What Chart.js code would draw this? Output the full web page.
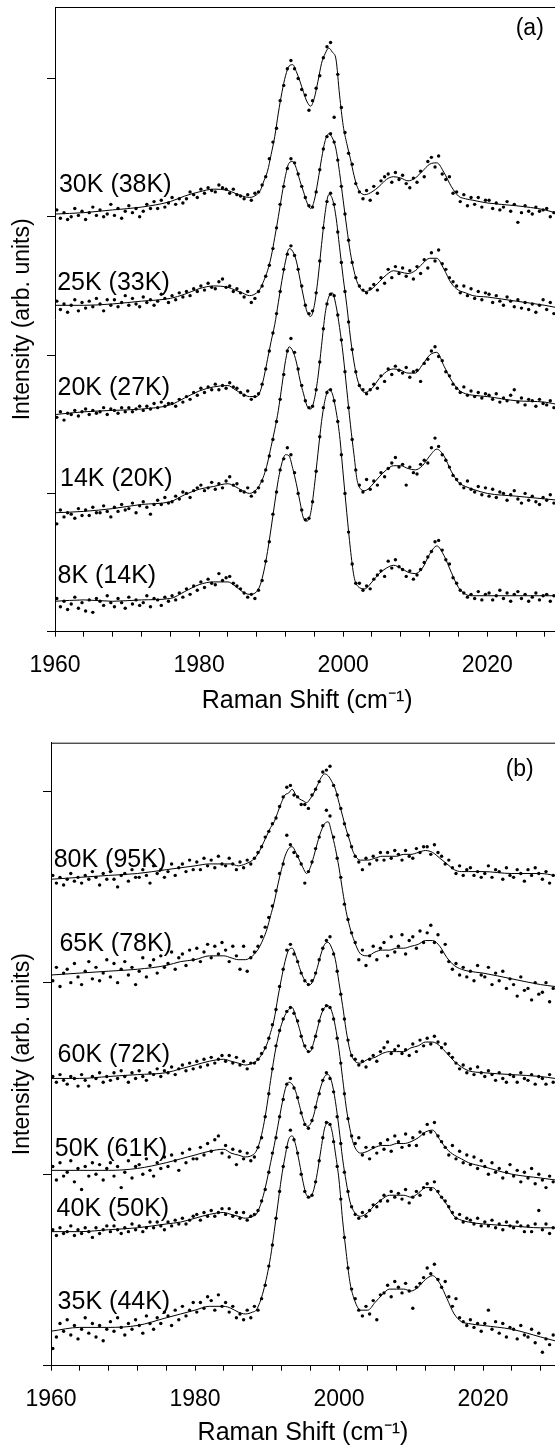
<!DOCTYPE html>
<html>
<head>
<meta charset="utf-8">
<script src="https://cdn.jsdelivr.net/npm/chart.js@4.4.0/dist/chart.umd.min.js"></script>
<style>
  html, body { margin: 0; padding: 0; background: #fff; overflow: hidden; width: 555px; height: 1448px; }
  #boxA { position: absolute; left: 0; top: 0; width: 565px; height: 720px; }
  #boxB { position: absolute; left: 0; top: 720px; width: 565px; height: 728px; }
</style>
</head>
<body>
<div id="boxA"><canvas id="chartA" width="565" height="720"></canvas></div>
<div id="boxB"><canvas id="chartB" width="565" height="728"></canvas></div>
<script>
// Raman shift (cm-1) where the fitted curves were read
const X_FIT = [1960, 1964, 1968, 1972, 1976, 1978, 1980, 1982, 1984, 1985, 1986, 1987, 1988,
  1988.5, 1989, 1989.5, 1990, 1990.5, 1991, 1991.5, 1992, 1992.5, 1993, 1993.5, 1994, 1994.5,
  1995, 1995.5, 1996, 1996.5, 1997, 1997.5, 1998, 1998.5, 1999, 1999.5, 2000, 2000.5, 2001,
  2001.5, 2002, 2003, 2004, 2005, 2006, 2007, 2008, 2009, 2010, 2011, 2012, 2013, 2014, 2015,
  2016, 2017, 2018, 2020, 2024, 2028, 2030];

// measured points are spaced every 0.5 cm-1 starting at 1960.25
const DOT_START = 1960.25;
const DOT_STEP = 0.5;

// ---- panel (a) ----
const FIT_30K = [302,303,305,307,311,315,318,320,319,317,315,314,316,
  319,326,333,345,358,375,390,402,409,410,405,398,390,383,380,386,398,411,418,422,419,414,388,366,353,342,330,321,
  316,318,322,327,329,328,326,328,333,338,339,332,322,315,313,312,310,308,305,302];
const FIT_25K = [236,236,237,239,241,244,248,250,249,247,245,243,245,
  248,254,261,271,285,300,316,330,339,340,335,326,318,310,306,312,326,342,355,360,357,349,332,312,292,274,261,252,
  246,248,253,258,261,260,259,261,266,270,270,262,252,247,245,243,242,239,236,234];
const FIT_20K = [157,159,160,161,164,169,174,177,178,175,172,170,170,
  174,184,197,210,222,238,254,268,277,275,268,255,242,231,228,236,255,280,303,316,313,300,278,256,236,213,195,182,
  173,176,183,188,190,189,187,187,193,200,202,192,182,175,172,171,170,167,166,164];
const FIT_14K = [86,87,89,92,94,99,103,105,107,105,102,100,103,
  107,113,122,134,146,160,178,196,206,203,195,182,172,163,161,168,184,207,230,242,245,236,220,200,175,150,128,108,
  102,106,112,117,120,120,118,117,120,127,132,127,116,108,105,103,100,98,96,95];
const FIT_8K = [22,23,22,23,24,29,34,36,36,33,29,27,29,
  34,44,58,75,93,110,122,128,127,118,107,94,82,80,86,105,129,152,168,175,172,160,142,114,86,60,40,33,
  31,36,42,46,48,46,43,42,46,56,62,55,43,32,27,26,26,26,26,26];

const DOTS_30K = [305,299,303,298, 300,306,301,304, 298,303,307,301, 305,300,302,309, 301,306,299,304,
  308,303,306,300, 304,309,306,311, 306,312,307,310, 314,309,313,310, 313,318,316,314,
  320,317,321,319, 318,323,321,320, 317,320,316,315, 313,316,312,317, 318,323,329,342,
  354,364,384,395, 407,413,407,400, 392,388,377,384, 393,402,415,423, 426,372,403,379,
  361,346,338,324, 318,313,319,312, 322,317,326,329, 331,325,332,327, 330,324,321,328,
  325,333,329,340, 343,336,344,331, 327,329,317,318, 311,316,308,314, 309,314,307,312,
  312,306,310,305, 307,311,304,309, 296,303,308,304, 302,307,304,305, 306,300,303,297];
const DOTS_25K = [239,233,237,231, 236,240,232,238, 234,239,235,241, 237,232,240,236, 240,235,238,243,
  236,241,237,235, 242,238,240,236, 239,244,241,238, 243,240,245,242, 246,243,248,246,
  250,247,252,249, 248,253,255,249, 250,246,248,245, 242,246,238,241, 246,250,257,265,
  277,292,309,322, 335,342,339,331, 322,314,308,307, 318,334,349,358, 360,354,341,322,
  302,283,267,256, 250,247,245,248, 251,247,256,252, 262,256,264,259, 263,257,261,255,
  264,259,269,263, 274,268,276,266, 262,256,253,250, 245,250,243,248, 241,246,240,245,
  244,238,243,239, 236,242,239,235, 240,234,238,233, 237,231,236,240, 233,238,230,235];
const DOTS_20K = [155,159,153,158, 157,160,156,159, 161,157,160,158, 159,162,157,161, 160,158,162,159,
  162,159,161,163, 160,163,161,165, 162,166,163,165, 165,163,168,166, 170,168,173,171,
  176,173,177,175, 179,175,178,176, 180,177,176,173, 171,174,168,170, 172,179,190,203,
  216,230,246,262, 273,279,272,262, 250,236,230,232, 245,268,292,311, 317,309,289,267,
  246,224,204,188, 178,175,172,175, 179,176,185,181, 190,186,192,189, 187,191,184,188,
  189,181,194,197, 203,206,199,196, 188,185,179,176, 173,177,171,174, 170,173,169,172,
  171,168,172,166, 169,167,171,175, 166,169,164,168, 167,163,168,165, 164,167,162,166];
const DOTS_14K = [78,88,83,86, 85,82,89,84, 88,84,90,86, 86,91,87,83, 90,87,92,88,
  89,93,86,91, 94,90,85,92, 95,92,97,93, 94,98,96,101, 100,97,102,104,
  106,102,104,108, 103,107,104,109, 112,106,107,102, 101,104,98,101, 104,109,117,127,
  139,152,168,186, 203,212,202,190, 178,167,162,163, 175,195,219,237, 244,243,229,211,
  188,162,139,117, 106,101,110,103, 109,106,115,112, 118,122,126,119, 121,106,119,115,
  114,121,124,122, 133,140,134,128, 124,119,113,110, 107,104,109,103, 101,105,99,104,
  98,103,97,101, 100,95,99,102, 96,93,100,95, 98,94,92,97, 95,99,93,96];
const DOTS_8K = [24,18,22,16, 20,25,17,21, 15,23,14,24, 22,19,26,21, 18,24,21,17,
  25,20,23,19, 21,26,18,24, 23,19,25,22, 26,23,28,25, 31,27,33,30,
  36,32,38,35, 34,42,37,39, 40,35,33,31, 28,25,27,24, 30,37,51,65,
  85,101,117,125, 133,128,115,100, 88,81,82,94, 116,141,162,173, 175,167,152,128,
  100,72,49,35, 35,30,33,31, 38,41,44,40, 51,46,52,47, 45,40,44,38,
  41,45,50,54, 58,65,66,59, 52,49,39,35, 30,28,25,27, 24,29,23,27,
  28,23,26,30, 24,28,22,27, 29,24,27,22, 25,28,23,26, 27,22,26,24];

// ---- panel (b) ----
const FIT_80K = [254,255,256,257,259,260,261,262,262,262,261,262,264,
  266,269,273,277,281,284,289,294,298,299,301,298,296,295,294,296,299,303,307,309,308,305,301,294,287,280,274,268,
  264,264,265,266,266,266,267,267,268,269,268,265,262,259,258,258,258,257,257,256];
const FIT_65K = [204,205,206,207,209,211,212,214,214,213,212,212,214,
  216,219,223,228,235,242,251,259,266,270,271,268,264,260,257,260,266,273,279,283,284,278,270,260,248,237,229,223,
  215,214,216,217,217,218,218,219,220,222,222,219,213,209,207,206,205,202,199,198];
const FIT_60K = [150,150,151,152,153,155,157,159,160,159,158,157,158,
  159,161,164,168,174,181,192,202,211,217,218,214,208,203,200,199,202,208,215,220,221,218,212,200,188,175,165,160,
  158,160,161,163,164,164,164,166,167,169,169,167,163,159,156,154,153,152,151,150];
const FIT_50K = [102,102,102,103,106,108,110,112,113,111,110,109,110,
  112,117,125,136,149,161,171,178,183,186,187,182,176,169,165,164,169,176,183,187,188,185,177,165,150,135,124,116,
  111,112,114,115,115,116,116,117,119,122,123,118,113,110,108,106,104,100,98,97];
const FIT_40K = [70,70,71,72,74,75,77,79,80,79,78,77,78,
  79,83,89,97,106,115,125,135,144,148,147,143,136,129,125,126,131,139,146,151,152,148,138,124,108,96,86,81,
  78,80,84,87,89,89,89,88,90,93,93,89,84,78,76,75,74,73,72,72];
const FIT_35K = [18,20,20,21,25,27,29,31,31,30,28,27,28,
  29,33,39,47,57,70,84,98,109,118,120,115,106,96,89,88,92,101,113,124,127,123,111,97,76,59,44,36,
  29,29,33,37,40,40,40,39,41,45,47,43,35,27,23,22,21,19,15,13];

const DOTS_80K = [256,252,255,251, 254,257,253,255, 252,256,254,258, 255,251,257,254, 258,254,250,256,
  257,253,259,255, 255,259,256,252, 261,257,259,255, 258,262,256,260, 262,258,264,259,
  263,259,265,261, 264,260,266,262, 261,265,262,259, 263,260,264,262, 265,268,271,276,
  279,283,286,292, 297,302,303,298, 297,293,293,291, 298,301,305,310, 311,313,303,298,
  291,283,277,271, 266,263,259,265, 262,266,264,268, 264,268,265,269, 267,264,269,266,
  265,270,268,271, 271,267,272,268, 266,262,264,260, 257,261,256,259, 260,256,258,255,
  257,261,255,259, 258,254,260,256, 255,259,257,253, 259,256,260,257, 254,258,252,256];
const DOTS_65K = [201,208,198,205, 207,200,210,203, 199,206,211,202, 208,201,205,212, 203,210,200,207,
  211,204,208,199, 206,213,203,209, 212,205,214,208, 210,216,207,213, 215,209,217,212,
  218,211,216,220, 213,219,215,221, 217,211,219,214, 207,219,206,213, 216,219,224,229,
  234,240,248,257, 262,277,272,268, 266,262,252,258, 263,270,276,282, 290,287,276,265,
  255,241,233,226, 221,212,217,209, 214,219,212,218, 221,214,224,216, 219,225,215,222,
  224,218,227,221, 226,230,221,225, 216,220,211,207, 210,204,208,203, 206,201,209,204,
  203,208,199,205, 201,206,197,202, 199,193,203,196, 197,191,200,194, 195,200,190,197];
const DOTS_60K = [151,148,152,149, 147,151,150,146, 152,149,146,151, 150,153,148,151, 149,153,150,154,
  151,148,153,150, 154,151,149,153, 152,155,151,154, 153,156,152,155, 157,154,158,155,
  159,156,160,157, 161,158,160,162, 159,162,158,161, 157,159,155,158, 158,160,163,166,
  171,178,186,198, 207,217,220,215, 211,205,201,199, 201,205,212,218, 222,224,215,206,
  194,181,170,162, 160,157,159,156, 160,162,159,164, 166,169,163,165, 167,163,165,162,
  168,164,170,167, 171,168,172,169, 166,168,163,161, 158,155,157,153, 155,152,156,153,
  151,154,152,149, 153,150,148,152, 151,148,153,150, 149,152,147,151, 150,147,152,148];
const DOTS_50K = [104,97,106,99, 101,107,96,103, 92,104,99,106, 100,105,97,103, 106,99,104,93,
  101,107,98,104, 105,100,108,102, 99,106,103,109, 104,110,107,102, 111,106,113,108,
  108,114,110,116, 112,118,120,111, 115,109,113,105, 112,108,111,107, 109,114,119,130,
  142,155,167,175, 181,185,187,184, 180,172,167,164, 166,172,180,186, 188,187,181,171,
  158,142,129,120, 116,119,110,114, 108,114,111,116, 113,118,112,120, 117,114,121,115,
  119,115,122,121, 126,122,127,120, 117,114,110,115, 108,112,106,110, 105,109,103,107,
  104,100,106,101, 103,98,101,105, 99,102,96,101, 98,103,95,100, 97,93,99,96];
const DOTS_40K = [71,68,72,69, 70,73,68,71, 69,72,70,67, 72,69,71,73, 70,73,71,69,
  72,70,74,71, 73,70,72,75, 72,75,73,71, 75,73,76,74, 77,74,76,78,
  79,76,80,78, 81,78,80,82, 79,82,78,80, 77,80,76,78, 79,81,86,92,
  101,111,119,130, 139,147,150,145, 140,132,126,124, 128,135,142,149, 153,150,143,130,
  116,101,91,83, 79,77,80,78, 81,84,83,86, 89,86,91,88, 90,87,92,85,
  88,91,89,93, 95,92,96,91, 88,86,83,80, 77,79,75,77, 76,74,77,73,
  75,73,76,72, 74,71,75,73, 72,75,73,70, 73,70,74,81, 71,74,69,72];
const DOTS_35K = [9,15,22,18, 24,16,21,14, 19,25,17,22, 15,21,13,19, 23,18,25,20,
  16,22,19,24, 21,17,26,22, 19,25,22,28, 26,21,29,24, 31,26,29,33,
  28,33,30,36, 34,29,37,31, 33,28,31,25, 27,24,29,25, 31,29,35,42,
  52,63,77,91, 104,114,123,118, 111,100,91,88, 89,96,107,119, 127,126,117,104,
  87,67,51,40, 35,29,26,31, 27,34,24,37, 38,42,36,44, 41,38,43,39,
  30,41,43,46, 51,48,53,45, 41,44,36,31, 35,25,23,21, 24,20,22,18,
  22,29,19,23, 17,22,15,20, 19,14,21,16, 15,19,12,17, 7,14,11,16];

// temperature labels: text with the spot (shift, intensity) where it sits
const LABELS_A = [
  { text: "30K (38K)", x: 1960.55, y: 323 },
  { text: "25K (33K)", x: 1960.3, y: 252 },
  { text: "20K (27K)", x: 1960.35, y: 176 },
  { text: "14K (20K)", x: 1960.7, y: 110 },
  { text: "8K (14K)", x: 1960.35, y: 40 }
];
const LABELS_B = [
  { text: "80K (95K)", x: 1960.37, y: 264 },
  { text: "65K (78K)", x: 1961.17, y: 220 },
  { text: "60K (72K)", x: 1960.92, y: 162 },
  { text: "50K (61K)", x: 1960.53, y: 113 },
  { text: "40K (50K)", x: 1960.78, y: 82 },
  { text: "35K (44K)", x: 1960.92, y: 33 }
];

const FONT = '"Liberation Sans", Arial, Helvetica, sans-serif';
Chart.defaults.font.family = FONT;
Chart.defaults.color = "#000";

const fitPoints = vals => X_FIT.map((x, i) => ({ x, y: vals[i] }));
const dotPoints = vals => vals.map((y, i) => ({ x: DOT_START + i * DOT_STEP, y }));

function traceDatasets(pairs) {
  const out = [];
  pairs.forEach(([fit, dots]) => {
    out.push({
      data: fitPoints(fit),
      showLine: true,
      borderColor: "#000",
      borderWidth: 1,
      pointRadius: 0,
      cubicInterpolationMode: "monotone"
    });
    out.push({
      data: dotPoints(dots),
      showLine: false,
      pointRadius: 1.7,
      pointBorderWidth: 0,
      pointBackgroundColor: "#000"
    });
  });
  return out;
}

const panelText = {
  id: "panelText",
  afterDatasetsDraw(chart, args, opts) {
    const { ctx, chartArea, scales: { x, y } } = chart;
    ctx.save();
    ctx.strokeStyle = "#000";
    ctx.lineWidth = 1;
    ctx.beginPath();
    ctx.moveTo(chartArea.left, chartArea.top + 0.5);
    ctx.lineTo(chartArea.right, chartArea.top + 0.5);
    ctx.stroke();
    ctx.fillStyle = "#000";
    ctx.textBaseline = "middle";
    ctx.textAlign = "left";
    ctx.font = "25px " + FONT;
    opts.labels.forEach(l => ctx.fillText(l.text, x.getPixelForValue(l.x), y.getPixelForValue(l.y)));
    ctx.textAlign = "center";
    ctx.font = "23px " + FONT;
    ctx.fillText(opts.tag.text, x.getPixelForValue(opts.tag.x), y.getPixelForValue(opts.tag.y));
    ctx.restore();
  }
};

function makeChart(id, pairs, o) {
  return new Chart(document.getElementById(id), {
    type: "scatter",
    data: { datasets: traceDatasets(pairs) },
    options: {
      responsive: false,
      animation: false,
      layout: { padding: { top: o.padTop, right: o.padRight, left: 0, bottom: 0 } },
      plugins: {
        legend: { display: false },
        tooltip: { enabled: false },
        panelText: { labels: o.labels, tag: o.tag }
      },
      scales: {
        x: {
          type: "linear",
          min: 1960,
          max: 2030,
          ticks: {
            stepSize: 4,
            includeBounds: false,
            autoSkip: false,
            maxRotation: 0,
            padding: 15,
            font: { size: 23 },
            callback: v => (v % 20 === 0 ? String(v) : "")
          },
          grid: { drawOnChartArea: false, tickLength: 5, color: "#000" },
          border: { color: "#000", width: 1 },
          title: {
            display: true,
            text: "Raman Shift (cm⁻¹)",
            font: { size: 25 },
            padding: { top: 0, bottom: o.titlePad }
          },
          afterFit: s => { s.height = o.xHeight; }
        },
        y: {
          min: 0,
          max: o.yMax,
          ticks: { display: false, stepSize: 100, includeBounds: false },
          grid: { drawOnChartArea: false, tickLength: 8, color: "#000" },
          border: { color: "#000", width: 1 },
          title: {
            display: true,
            text: "Intensity (arb. units)",
            font: { size: 23 },
            padding: { top: 9, bottom: 0 }
          },
          afterFit: s => { s.width = o.yWidth; }
        }
      }
    },
    plugins: [panelText]
  });
}

makeChart("chartA", [
  [FIT_30K, DOTS_30K], [FIT_25K, DOTS_25K], [FIT_20K, DOTS_20K], [FIT_14K, DOTS_14K], [FIT_8K, DOTS_8K]
], {
  padTop: 7, padRight: 5.7, xHeight: 88.3, yWidth: 55, yMax: 451.7, titlePad: 4,
  labels: LABELS_A, tag: { text: "(a)", x: 2025.9, y: 436 }
});

makeChart("chartB", [
  [FIT_80K, DOTS_80K], [FIT_65K, DOTS_65K], [FIT_60K, DOTS_60K],
  [FIT_50K, DOTS_50K], [FIT_40K, DOTS_40K], [FIT_35K, DOTS_35K]
], {
  padTop: 22.7, padRight: 10, xHeight: 82.3, yWidth: 51, yMax: 325.3, titlePad: 0,
  labels: LABELS_B, tag: { text: "(b)", x: 2025.1, y: 311 }
});
</script>
</body>
</html>
